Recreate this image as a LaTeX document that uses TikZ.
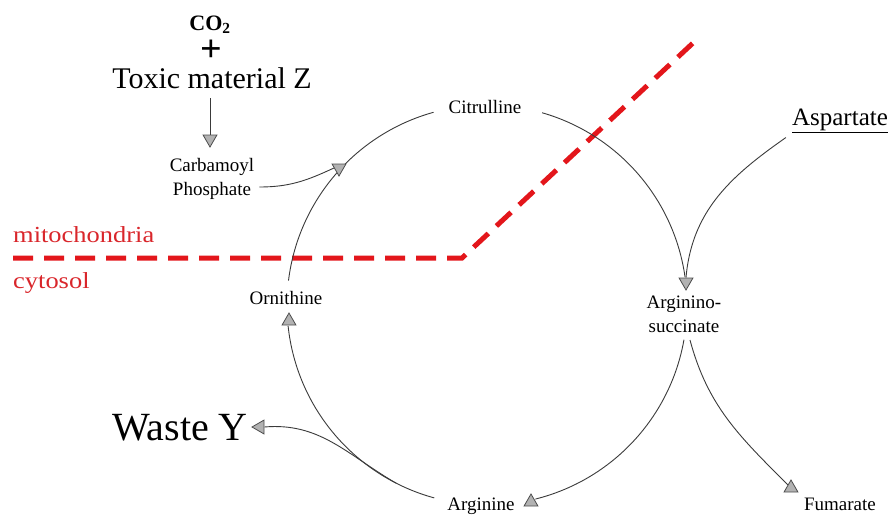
\documentclass[tikz,border=0pt]{standalone}
\usepackage{fontspec}
\setmainfont{Liberation Serif}
\newfontfamily\redfont[FakeStretch=1.15]{Liberation Serif}
\usetikzlibrary{shapes.geometric,backgrounds}
\definecolor{redline}{HTML}{E3161B}
\definecolor{redtext}{HTML}{D9262B}
\definecolor{linec}{HTML}{3A3A3A}
\begin{document}
\begin{tikzpicture}[x=1pt,y=1pt,
  lbl/.style={inner sep=0pt, anchor=base, font=\fontsize{19}{23}\selectfont},
  mlbl/.style={inner sep=0pt, anchor=center, align=center, font=\fontsize{19}{24}\selectfont},
  tri/.style={regular polygon, regular polygon sides=3, minimum size=16pt, inner sep=0pt, fill=gray!60, draw=black!70, line width=0.8pt},
  conn/.style={draw=linec, line width=0.9pt},
  redlbl/.style={text=redtext, inner sep=0pt, anchor=base west, font=\redfont\fontsize{23}{27}\selectfont},
  reddash/.style={draw=redline, line width=5pt, dash pattern=on 20pt off 11pt}]
\useasboundingbox (0,0) rectangle (895,-515);

\node[redlbl] (mito) at (13,-242) {mitochondria};
\node[redlbl] (cyto) at (13,-288) {cytosol};

% top inputs
\node[inner sep=0pt, anchor=base, font=\fontsize{22}{26}\selectfont] (co2) at (210,-30) {\textbf{CO\textsubscript{2}}};
\node[inner sep=0pt, anchor=base, text height=19pt, text depth=0pt, font=\fontsize{38}{40}\selectfont] (plus) at (211,-61) {\textbf{+}};
\node[inner sep=0pt, anchor=base, font=\fontsize{30}{34}\selectfont] (toxic) at (212,-88) {Toxic material Z};
\node[mlbl] (carb) at (212,-179) {Carbamoyl\\Phosphate};

% cycle labels
\node[lbl] (cit) at (485,-113) {Citrulline};
\node[mlbl] (asuc) at (684,-314) {Arginino-\\succinate};
\node[lbl] (arg) at (481,-510) {Arginine};
\node[lbl] (orn) at (286,-304) {Ornithine};
\node[lbl] (fum) at (840,-510) {Fumarate};
\node[inner sep=0pt, anchor=base, font=\fontsize{25}{29}\selectfont] (asp) at (840,-125) {\underline{Aspartate}};
\node[inner sep=0pt, anchor=base, font=\fontsize{40}{44}\selectfont] (waste) at (180,-440) {Waste Y};

% arrowheads
\node[tri, shape border rotate=180] (ttox) at (210,-139) {};
\node[tri, shape border rotate=180] (tcarb) at (339,-168) {};
\node[tri, shape border rotate=180] (tas) at (686,-282) {};
\node[tri] (targ) at (531,-502) {};
\node[tri] (tfum) at (791,-488) {};
\node[tri, shape border rotate=90] (twaste) at (260,-427) {};
\node[tri] (torn) at (289,-321) {};

% circle geometry
\coordinate (C) at (487,-305);
\coordinate (p1) at ([shift={(74:200)}]C);
\coordinate (p3) at ([shift={(-10:200)}]C);
\coordinate (p5) at ([shift={(-105.3:200)}]C);
\coordinate (p7) at ([shift={(173:200)}]C);
\coordinate (wb) at ([shift={(-117:200)}]C);
\coordinate (fs) at (690,-340);
\coordinate (r1) at (13,-258);
\coordinate (r2) at (462,-258);
\coordinate (r3) at (693,-43);
\coordinate (ts) at (210,-98);

\begin{scope}[on background layer]
\draw[reddash] (r1) -- (r2) -- (r3);
\draw[conn] (ts) -- (ttox.north);
\draw[conn] ([shift={(5pt,-8pt)}]carb.east) to[out=0,in=205] (tcarb.west);
\draw[conn] ([shift={(-6pt,-5pt)}]asp.south west) to[out=-145,in=85] (tas.north);
\draw[conn] (p1) arc[start angle=74, end angle=8, radius=200pt];
\draw[conn] (p3) arc[start angle=-10, end angle=-76, radius=200pt];
\draw[conn] (fs) to[out=-75,in=135] (tfum.north west);
\draw[conn] (p5) arc[start angle=-105.3, end angle=-174, radius=200pt];
\draw[conn] (wb) to[out=150,in=5] (twaste.east);
\draw[conn] (p7) arc[start angle=173, end angle=105.5, radius=200pt];
\end{scope}
\end{tikzpicture}
\end{document}
